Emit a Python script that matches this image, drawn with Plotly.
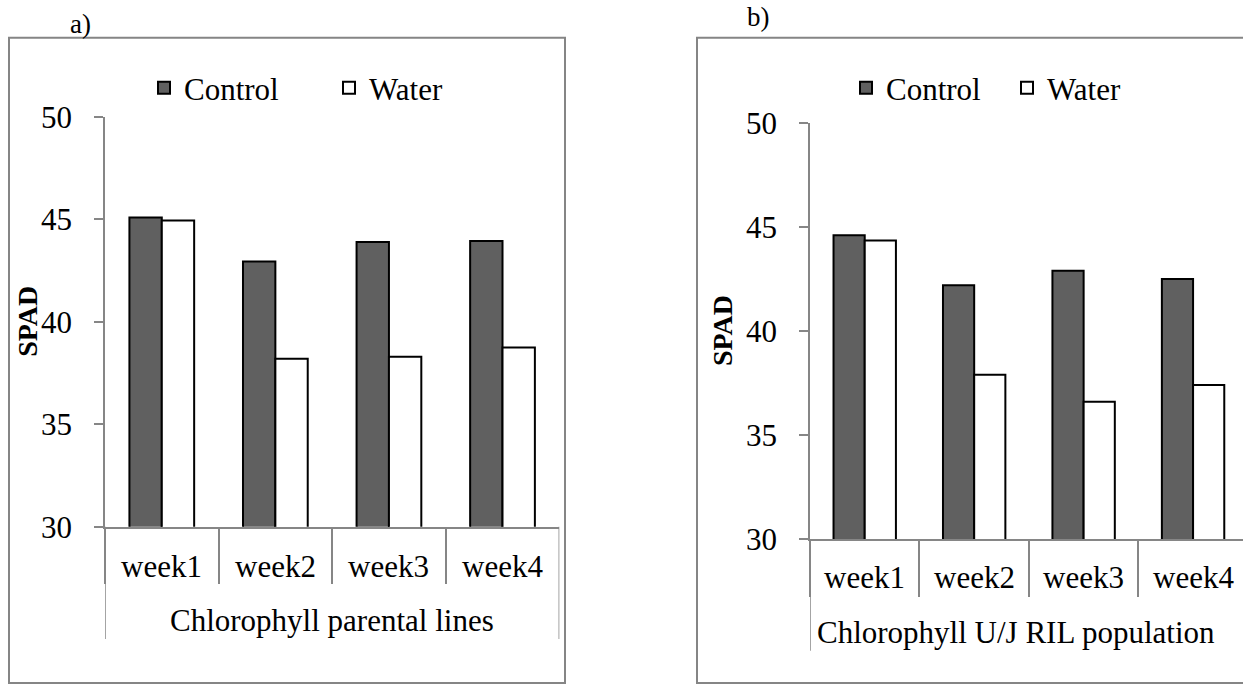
import plotly.graph_objects as go

W, H = 1243, 684

weeks = ["week1", "week2", "week3", "week4"]
series_names = ["Control", "Water"]
a_control = [45.1, 42.95, 43.9, 43.95]
a_water = [44.95, 38.2, 38.3, 38.75]
b_control = [44.6, 42.2, 42.9, 42.5]
b_water = [44.35, 37.9, 36.6, 37.4]
y_ticks = [30, 35, 40, 45, 50]
y_title = "SPAD"
group_a = "Chlorophyll parental lines"
group_b = "Chlorophyll U/J RIL population"
panel_labels = ["a)", "b)"]

FONT = "Liberation Serif, Times New Roman, serif"
GRAY = "#868686"
DARK = "#606060"


def px(x):
    return x / W


def py(y):
    return 1 - y / H


fig = go.Figure()

fills = [DARK, "white"]
for i, (name, vals) in enumerate(zip(series_names, [a_control, a_water])):
    fig.add_trace(go.Bar(x=weeks, y=vals, name=name, marker=dict(color=fills[i], line=dict(color="black", width=2)),
                         xaxis="x", yaxis="y", legend="legend", offsetgroup=str(i)))
for i, (name, vals) in enumerate(zip(series_names, [b_control, b_water])):
    fig.add_trace(go.Bar(x=weeks, y=vals, name=name, marker=dict(color=fills[i], line=dict(color="black", width=2)),
                         xaxis="x2", yaxis="y2", legend="legend2", offsetgroup=str(i)))

# panel geometry (pixels)
ax_a = dict(x0=105, x1=559.3, y30=526.7, y50=117)
ax_b = dict(x0=810, x1=1247.8, y30=539, y50=123)
b_range_hi = -0.5 + 4 * (W - ax_b["x0"]) / (ax_b["x1"] - ax_b["x0"])

tfont = dict(family=FONT, size=31, color="black")

yax_common = dict(range=[30, 50], tickvals=y_ticks, showline=True, linecolor=GRAY, linewidth=1.5,
                  ticks="outside", ticklen=9, tickcolor=GRAY, tickwidth=1.5, showgrid=False, zeroline=False,
                  tickfont=tfont, ticklabelstandoff=16, automargin=False)

xax_common = dict(type="category", showline=True, linecolor=GRAY, linewidth=1.5, ticks="outside",
                  tickson="boundaries", ticklen=56, tickcolor=GRAY, tickwidth=1.5, showticklabels=False,
                  showgrid=False, zeroline=False, automargin=False)

fig.update_layout(
    template="none",
    width=W, height=H, margin=dict(l=0, r=0, t=0, b=0, pad=0), autosize=False,
    paper_bgcolor="white", plot_bgcolor="white",
    barmode="group", bargap=0.43, bargroupgap=0,
    font=dict(family=FONT, color="black", size=31),
    xaxis=dict(domain=[px(ax_a["x0"]), px(ax_a["x1"])], range=[-0.5, 3.5], anchor="y", **xax_common),
    yaxis=dict(domain=[py(ax_a["y30"]), py(ax_a["y50"])], anchor="x", **yax_common),
    xaxis2=dict(domain=[px(ax_b["x0"]), 1.0], range=[-0.5, b_range_hi], anchor="y2", **xax_common),
    yaxis2=dict(domain=[py(ax_b["y30"]), py(ax_b["y50"])], anchor="x2", **yax_common),
    legend=dict(orientation="h", x=px(144), xanchor="left", y=py(88), yanchor="middle",
                font=tfont, bgcolor="rgba(0,0,0,0)",
                itemwidth=30, entrywidth=140, traceorder="normal"),
    legend2=dict(orientation="h", x=px(846), xanchor="left", y=py(88), yanchor="middle",
                 font=tfont, bgcolor="rgba(0,0,0,0)",
                 itemwidth=30, entrywidth=116, traceorder="normal"),
    showlegend=True,
)

shapes = []
# outer frames
for x0, x1 in [(9, 565), (697, 1260)]:
    shapes.append(dict(type="rect", xref="paper", yref="paper", x0=px(x0), x1=px(x1), y0=py(37.7), y1=py(683),
                       line=dict(color="#858585", width=2), fillcolor="rgba(0,0,0,0)", layer="below"))
# outer category separators
for xv in [-0.5, 3.5]:
    shapes.append(dict(type="line", xref="x", yref="paper", x0=xv, x1=xv, y0=py(ax_a["y30"]), y1=py(639),
                       line=dict(color=GRAY, width=1.5)))
shapes.append(dict(type="line", xref="x2", yref="paper", x0=-0.5, x1=-0.5, y0=py(ax_b["y30"]), y1=py(650.7),
                   line=dict(color=GRAY, width=1.5)))
fig.update_layout(shapes=shapes)

ann = []
for w in weeks:
    ann.append(dict(x=w, y=py(566), xref="x", yref="paper", text=w, showarrow=False, yanchor="middle",
                    font=tfont))
    ann.append(dict(x=w, y=py(577), xref="x2", yref="paper", text=w, showarrow=False, yanchor="middle",
                    font=tfont))
ann.append(dict(x=1.5, y=py(620), xref="x", yref="paper", text=group_a, showarrow=False, yanchor="middle",
                font=tfont))
ann.append(dict(x=-0.5, y=py(632), xref="x2", yref="paper", text=group_b, showarrow=False, yanchor="middle",
                xanchor="left", xshift=5, font=tfont))
# y-axis titles
ann.append(dict(x=px(28), y=py((ax_a["y30"] + ax_a["y50"]) / 2), xref="paper", yref="paper",
                text="<b>%s</b>" % y_title, textangle=-90, showarrow=False, xanchor="center", yanchor="middle",
                font=dict(family=FONT, size=28, color="black")))
ann.append(dict(x=px(722), y=py((ax_b["y30"] + ax_b["y50"]) / 2), xref="paper", yref="paper",
                text="<b>%s</b>" % y_title, textangle=-90, showarrow=False, xanchor="center", yanchor="middle",
                font=dict(family=FONT, size=28, color="black")))
ann.append(dict(x=px(68), y=py(24), xref="paper", yref="paper", text=panel_labels[0], showarrow=False,
                yanchor="middle", font=dict(family=FONT, size=27, color="black")))
ann.append(dict(x=px(759), y=py(17), xref="paper", yref="paper", text=panel_labels[1], showarrow=False,
                yanchor="middle", font=dict(family=FONT, size=27, color="black")))
fig.update_layout(annotations=ann)

fig.write_html("out.html")
